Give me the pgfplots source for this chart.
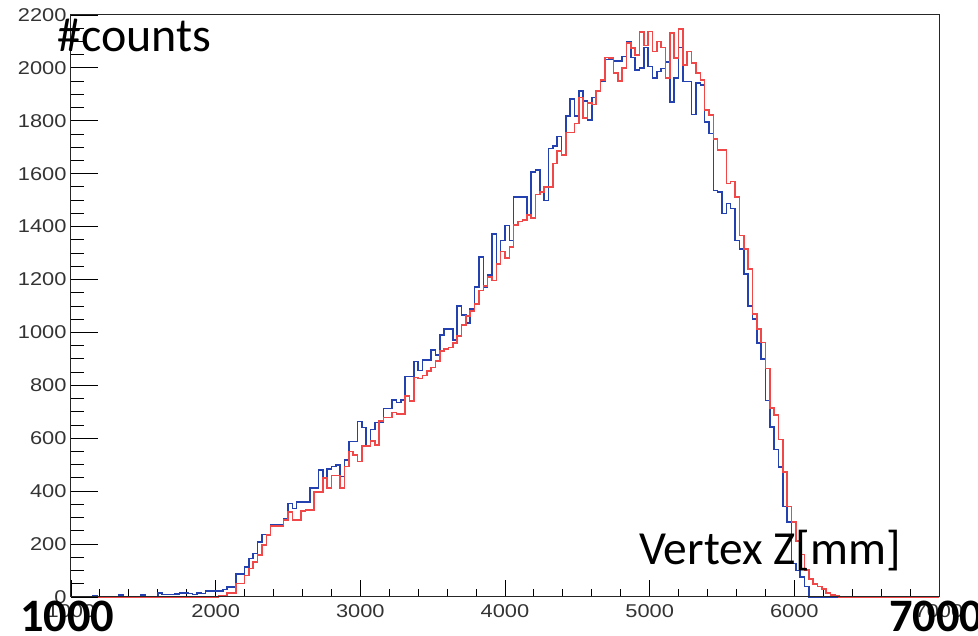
\documentclass[border=0pt]{standalone}
\usepackage{pgfplots}
\pgfplotsset{compat=1.18}
\usepackage{pgfplotstable}
\usepackage{graphicx}
\usepackage{fontspec}
\setmainfont{Carlito}
\newfontfamily\arialf{Liberation Sans}
\definecolor{hblue}{RGB}{35,65,175}
\definecolor{hred}{RGB}{240,72,72}

\pgfplotstableread{
x b r
1000 0 0
1030 0 0
1060 0 0
1090 0 0
1120 0 0
1150 6 0
1180 0 0
1210 0 0
1240 0 0
1270 0 0
1300 0 0
1330 8 0
1360 0 0
1390 0 0
1420 0 0
1450 0 0
1480 8 0
1510 0 0
1540 0 0
1570 0 0
1600 16 0
1630 9 0
1660 9 0
1690 9 0
1720 12 0
1750 16 0
1780 16 0
1810 13 0
1840 9 0
1870 16 0
1900 13 0
1930 23 0
1960 23 0
1990 23 0
2020 23 6
2050 29 6
2080 38 16
2110 38 16
2140 88 51
2170 88 51
2200 114 82
2230 145 107
2260 164 133
2290 208 158
2320 236 196
2350 236 234
2380 272 268
2410 274 268
2440 272 268
2470 297 291
2500 354 322
2530 335 291
2560 360 291
2590 360 326
2620 360 329
2650 411 329
2680 411 398
2710 481 398
2740 451 449
2770 484 413
2800 493 459
2830 499 459
2860 455 413
2890 518 493
2920 588 550
2950 588 537
2980 663 512
3010 640 570
3040 570 570
3070 633 589
3100 659 574
3130 659 665
3160 712 678
3190 712 678
3220 745 697
3250 735 691
3280 745 691
3310 833 760
3340 833 741
3370 890 829
3400 856 826
3430 895 838
3460 895 855
3490 933 867
3520 914 893
3550 990 930
3580 1013 937
3610 1013 943
3640 972 960
3670 1101 987
3700 1066 1028
3730 1035 1063
3760 1088 1082
3790 1171 1107
3820 1285 1158
3850 1171 1175
3880 1218 1209
3910 1373 1196
3940 1259 1259
3970 1348 1306
4000 1405 1281
4030 1348 1323
4060 1512 1407
4090 1512 1420
4120 1512 1426
4150 1443 1443
4180 1607 1433
4210 1613 1521
4240 1531 1531
4270 1499 1550
4300 1695 1550
4330 1704 1639
4360 1740 1685
4390 1670 1670
4420 1819 1756
4450 1883 1756
4480 1819 1790
4510 1913 1888
4540 1875 1811
4570 1803 1867
4600 1888 1862
4630 1913 1913
4660 1948 1955
4690 2031 2039
4720 2031 2037
4750 2027 1980
4780 2027 1951
4810 2043 2000
4840 2100 2093
4870 2040 2075
4900 1993 2049
4930 1999 2135
4960 2077 2085
4990 2006 2138
5020 1961 2062
5050 1986 2100
5080 1997 2077
5110 2022 1961
5140 1872 2132
5170 1961 2037
5200 2077 2148
5230 1948 2011
5260 1948 2062
5290 1824 2018
5320 1942 1980
5350 1935 1955
5380 1796 1841
5410 1752 1822
5440 1537 1731
5470 1531 1689
5500 1449 1689
5530 1487 1563
5560 1468 1571
5590 1348 1512
5620 1316 1367
5650 1221 1316
5680 1099 1240
5710 1050 1070
5740 961 1013
5770 900 962
5800 742 863
5830 642 714
5860 557 687
5890 492 596
5920 342 473
5950 283 342
5980 127 284
6010 100 212
6040 75 160
6070 40 101
6100 0 69
6130 0 49
6160 0 39
6190 0 30
6220 0 16
6250 0 8
6280 0 4
6310 0 0
7000 0 0
}\histdata

\pgfplotsset{
  rootframe/.style={
    at={(71pt,39pt)}, anchor=south west,
    scale only axis, width=868pt, height=582pt,
    xmin=1000, xmax=7000, ymin=0, ymax=2200,
    tick align=inside,
    axis line style={black!85, line width=1pt},
    every tick/.style={black, line width=0.9pt},
    /pgf/number format/assume math mode=true,
    /pgf/number format/1000 sep={},
    clip=false,
  },
}

\begin{document}
\begin{tikzpicture}
\useasboundingbox (0,0) rectangle (978pt,636pt);
% x ticks
\begin{axis}[
  rootframe,
  xtick={1000,2000,...,7000}, minor x tick num=4,
  ytick=\empty,
  xtick pos=lower,
  major tick length=17pt, minor tick length=8pt,
  xticklabel={\scalebox{1.18}[1]{\pgfmathprintnumber{\tick}}},
  xticklabel style={font=\arialf\fontsize{18.5}{20}\selectfont, text=black!80, yshift=-4pt},
]
\addplot[const plot mark left, hblue, line width=1.6pt] table[x=x, y=b] {\histdata};
\addplot[const plot mark left, hred, line width=1.6pt] table[x=x, y=r] {\histdata};
\end{axis}
% y ticks
\begin{axis}[
  rootframe,
  xtick=\empty,
  ytick={0,200,...,2200}, minor y tick num=3,
  ytick pos=left,
  major tick length=27pt, minor tick length=13pt,
  yticklabel={\scalebox{1.18}[1]{\pgfmathprintnumber{\tick}}},
  yticklabel style={font=\arialf\fontsize{18.5}{20}\selectfont, text=black!80, xshift=-1pt},
]
\end{axis}
\node[anchor=base west, inner sep=0, font=\fontsize{48}{52}\selectfont] at (57pt,584pt) {\#counts};
\node[anchor=base west, inner sep=0, font=\fontsize{47.5}{50}\selectfont] at (639pt,71pt) {Vertex Z[mm]};
\node[anchor=base west, inner sep=0, font=\bfseries\fontsize{46.5}{50}\selectfont] at (20pt,4pt) {1000};
\node[anchor=base west, inner sep=0, font=\bfseries\fontsize{46.5}{50}\selectfont] at (889pt,4pt) {7000};
\end{tikzpicture}
\end{document}
